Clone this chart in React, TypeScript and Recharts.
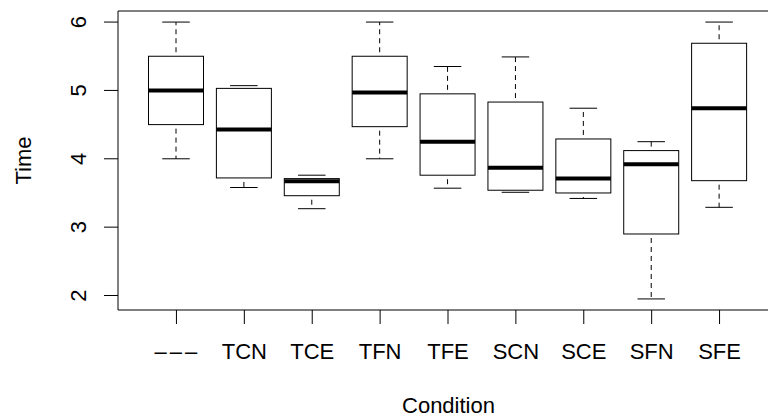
import { ComposedChart, Bar, XAxis, YAxis } from "recharts";

// boxplot stats per condition
const conditions = ["–––", "TCN", "TCE", "TFN", "TFE", "SCN", "SCE", "SFN", "SFE"];
const whiskerLow = [4.0, 3.58, 3.27, 4.0, 3.57, 3.51, 3.42, 1.95, 3.29];
const q1 = [4.5, 3.72, 3.46, 4.47, 3.76, 3.54, 3.5, 2.9, 3.68];
const median = [5.0, 4.43, 3.67, 4.97, 4.25, 3.87, 3.71, 3.92, 4.74];
const q3 = [5.5, 5.03, 3.71, 5.5, 4.95, 4.83, 4.29, 4.12, 5.69];
const whiskerHigh = [6.0, 5.07, 3.76, 6.0, 5.35, 5.49, 4.74, 4.25, 6.0];
const yTicks = [2, 3, 4, 5, 6];

const data = conditions.map((name, i) => ({
  name,
  whiskerLow: whiskerLow[i],
  q1: q1[i],
  median: median[i],
  q3: q3[i],
  whiskerHigh: whiskerHigh[i],
}));

const FONT = "'Liberation Sans', Arial, Helvetica, sans-serif";

const BoxShape = (props: any) => {
  const { x, y, width, height, payload } = props;
  const lo = payload.whiskerLow;
  const hi = payload.whiskerHigh;
  const k = height / (hi - lo);
  const py = (v: number) => y + (hi - v) * k;
  const cx = x + width / 2;
  const cap = width / 4;
  return (
    <g stroke="#000" fill="none">
      <line x1={cx} x2={cx} y1={py(payload.q3)} y2={py(hi)} strokeDasharray="5 4" strokeDashoffset={-4} />
      <line x1={cx} x2={cx} y1={py(payload.q1)} y2={py(lo)} strokeDasharray="5 4" strokeDashoffset={-4} />
      <line x1={cx - cap} x2={cx + cap} y1={py(hi)} y2={py(hi)} />
      <line x1={cx - cap} x2={cx + cap} y1={py(lo)} y2={py(lo)} />
      <rect x={x} y={py(payload.q3)} width={width} height={py(payload.q1) - py(payload.q3)} fill="#fff" />
      <line x1={x} x2={x + width} y1={py(payload.median)} y2={py(payload.median)} strokeWidth={4} />
    </g>
  );
};

const XTick = (props: any) => {
  const { x, payload } = props;
  const isDash = payload.value === "–––";
  return (
    <text
      x={x + (isDash ? 1 : 0)}
      y={359}
      textAnchor="middle"
      fontSize={22}
      fontFamily={FONT}
      letterSpacing={isDash ? 3 : 0}
      fill="#000"
    >
      {payload.value}
    </text>
  );
};

const YTick = (props: any) => {
  const { x, y, payload } = props;
  const tx = x - 18;
  return (
    <text x={tx} y={y} transform={`rotate(-90 ${tx} ${y})`} textAnchor="middle" fontSize={22} fontFamily={FONT} fill="#000">
      {payload.value}
    </text>
  );
};

const BoxPlotChart = () => {
  return (
    <div style={{ position: "fixed", left: 0, top: 0, width: 768, height: 420, overflow: "hidden", background: "#fff" }}>
      <ComposedChart width={790} height={420} data={data} margin={{ top: 10, right: 11, bottom: 0, left: 0 }}>
        <XAxis
          dataKey="name"
          height={110}
          padding={{ left: 24.5, right: 24.5 }}
          tickSize={14}
          tickMargin={0}
          tick={<XTick />}
          interval={0}
          axisLine={{ stroke: "#000" }}
          tickLine={{ stroke: "#000" }}
          label={{
            content: () => (
              <text x={448.5} y={413} textAnchor="middle" fontSize={22} fontFamily={FONT} fill="#000">
                Condition
              </text>
            ),
          }}
        />
        <XAxis
          xAxisId="top"
          dataKey="name"
          orientation="top"
          height={1}
          tick={false}
          tickLine={false}
          axisLine={{ stroke: "#000" }}
        />
        <YAxis
          type="number"
          domain={[1.788, 6.162]}
          ticks={yTicks}
          allowDataOverflow
          width={118}
          tickSize={14}
          tickMargin={0}
          tick={<YTick />}
          axisLine={{ stroke: "#000" }}
          tickLine={{ stroke: "#000" }}
          label={{
            content: () => (
              <text x={31} y={160.5} transform="rotate(-90 31 160.5)" textAnchor="middle" fontSize={22} fontFamily={FONT} fill="#000">
                Time
              </text>
            ),
          }}
        />
        <YAxis yAxisId="right" orientation="right" width={1} tick={false} tickLine={false} axisLine={{ stroke: "#000" }} />
        <Bar
          dataKey={(d: any) => [d.whiskerLow, d.whiskerHigh]}
          barSize={55}
          shape={<BoxShape />}
          isAnimationActive={false}
        />
      </ComposedChart>
    </div>
  );
};

export default BoxPlotChart;
